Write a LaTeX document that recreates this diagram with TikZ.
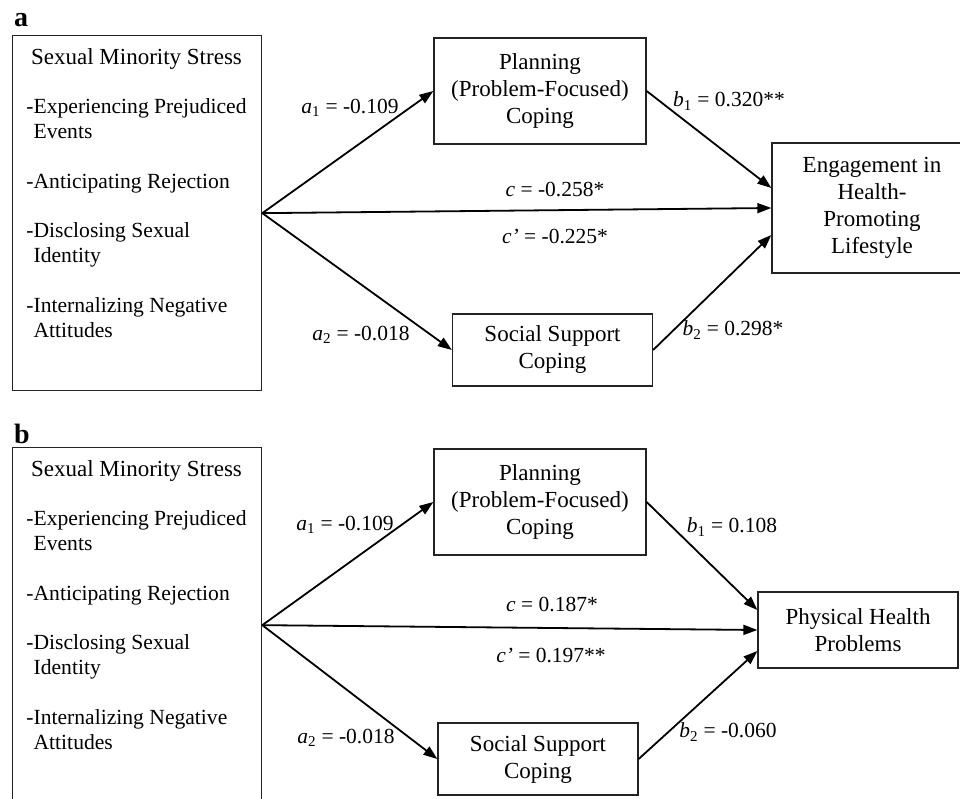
\documentclass[tikz,border=0pt]{standalone}
\usepackage{fontspec}
\setmainfont{Liberation Serif}
\usepackage{tikz}
\usetikzlibrary{arrows.meta,positioning}
\usepackage{xcolor}
\definecolor{LineGray}{RGB}{35,35,35}
\tikzset{
  basebox/.style={rectangle,draw=LineGray,line width=1.3pt,inner sep=0pt,
    align=center,font=\fontsize{23}{27}\selectfont},
  srcbox/.style={basebox,minimum width=249pt,minimum height=355pt},
  planbox/.style={basebox,minimum width=212pt,minimum height=106pt},
  suppbox/.style={basebox,minimum width=200pt,minimum height=72pt},
  outbox/.style={basebox,minimum width=200pt},
  srctext/.style={inner sep=0pt,anchor=north,font=\fontsize{21.6}{25}\selectfont},
  coef/.style={inner sep=0pt,font=\fontsize{21.5}{24}\selectfont},
  panel/.style={inner sep=0pt,anchor=base west,font=\fontsize{28}{30}\selectfont\bfseries},
  arrow/.style={-{Triangle[length=14pt,width=10pt]},line width=1.8pt,color=black}
}
\newcommand{\stresslist}{%
  \begin{tabular}{@{}l@{}}
  \multicolumn{1}{@{}c@{}}{\fontsize{23}{25}\selectfont Sexual Minority Stress}\\[24.5pt]
  -Experiencing Prejudiced\\
  \phantom{-}Events\\[24.5pt]
  -Anticipating Rejection\\[24.5pt]
  -Disclosing Sexual\\
  \phantom{-}Identity\\[24.5pt]
  -Internalizing Negative\\
  \phantom{-}Attitudes
  \end{tabular}}

\begin{document}
\begin{tikzpicture}[x=1pt,y=-1pt]
  \useasboundingbox (0,0) rectangle (960,799);
  \clip (0,0) rectangle (960,799);
  % panel a
  \node[panel] (tagA) at (14,27) {a};
  \node[srcbox,anchor=north west] (srcA) at (12,35) {};
  \node[srctext] (listA) at (136.5,46.5) {\stresslist};
  \node[planbox] (planA) at (540,91) {Planning\\(Problem-Focused)\\Coping};
  \node[suppbox] (suppA) at (552.5,350) {Social Support\\Coping};
  \node[outbox,minimum height=130pt] (engA) at (872,208) {Engagement in\\Health-\\Promoting\\Lifestyle};
  \node[coef] (a1A) at (350,108) {\textit{a}\textsubscript{1} = -0.109};
  \node[coef] (a2A) at (361,335) {\textit{a}\textsubscript{2} = -0.018};
  \node[coef] (cA) at (555,190) {\textit{c} = -0.258*};
  \node[coef] (cpA) at (555,237) {\textit{c’} = -0.225*};
  \node[coef] (b1A) at (729,101) {\textit{b}\textsubscript{1} = 0.320**};
  \node[coef] (b2A) at (733,330) {\textit{b}\textsubscript{2} = 0.298*};
  % panel b
  \node[panel] (tagB) at (14,443) {b};
  \node[srcbox,anchor=north west] (srcB) at (12,447) {};
  \node[srctext] (listB) at (136.5,458.5) {\stresslist};
  \node[planbox] (planB) at (540,502) {Planning\\(Problem-Focused)\\Coping};
  \node[suppbox] (suppB) at (538,759) {Social Support\\Coping};
  \node[outbox,minimum height=76pt] (physB) at (858,630) {Physical Health\\Problems};
  \node[coef] (a1B) at (345,525) {\textit{a}\textsubscript{1} = -0.109};
  \node[coef] (a2B) at (346,738) {\textit{a}\textsubscript{2} = -0.018};
  \node[coef] (cB) at (552,604) {\textit{c} = 0.187*};
  \node[coef] (cpB) at (551,655) {\textit{c’} = 0.197**};
  \node[coef] (b1B) at (732,527) {\textit{b}\textsubscript{1} = 0.108};
  \node[coef] (b2B) at (728,732) {\textit{b}\textsubscript{2} = -0.060};
  % paths
  \foreach \p/\q in {A/eng,B/phys}{
    \draw[arrow] (src\p.east) -- (plan\p.west);
    \draw[arrow] (src\p.east) -- (supp\p.west);
    \draw[arrow] (src\p.east) -- (\q\p.west);
  }
  \draw[arrow] (planA.east) -- ([yshift=20pt]engA.west);
  \draw[arrow] (suppA.east) -- ([yshift=-27pt]engA.west);
  \draw[arrow] (planB.east) -- ([yshift=20pt]physB.west);
  \draw[arrow] (suppB.east) -- ([yshift=-21pt]physB.west);
\end{tikzpicture}
\end{document}
